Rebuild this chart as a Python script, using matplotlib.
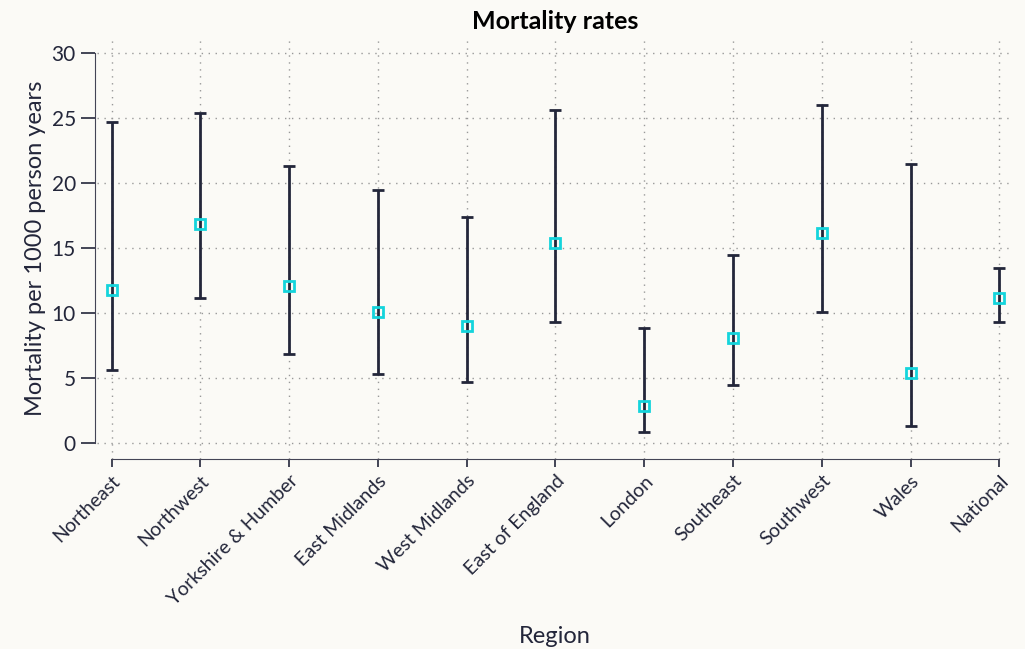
import matplotlib
matplotlib.use("Agg")
import matplotlib.pyplot as plt
import numpy as np

regions = ["Northeast", "Northwest", "Yorkshire & Humber", "East Midlands", "West Midlands",
           "East of England", "London", "Southeast", "Southwest", "Wales", "National"]
rate = [11.8, 16.9, 12.1, 10.1, 9.0, 15.4, 2.9, 8.1, 16.2, 5.4, 11.2]
lower = [5.6, 11.2, 6.9, 5.3, 4.7, 9.3, 0.9, 4.5, 10.1, 1.3, 9.3]
upper = [24.7, 25.4, 21.3, 19.5, 17.4, 25.6, 8.9, 14.5, 26.0, 21.5, 13.5]

plt.rcParams['font.family'] = ['Lato', 'DejaVu Sans']
bg = "#fbfaf6"
ink = "#23263a"

fig = plt.figure(figsize=(10.25, 6.49), dpi=100, facecolor=bg)
ax = fig.add_axes([0.095, 0.293, 0.893, 0.649])
ax.set_facecolor(bg)

x = np.arange(len(regions))
rate = np.array(rate)
err = [rate - np.array(lower), np.array(upper) - rate]
ax.errorbar(x, rate, yerr=err, fmt='none', ecolor=ink, elinewidth=2, capsize=4, capthick=2, zorder=3)
ax.plot(x, rate, 's', markersize=7, markerfacecolor='none', markeredgecolor='#14d4dc', markeredgewidth=2, zorder=4)

ax.set_xlim(-0.16, 10.15)
ax.set_ylim(-1.2, 31.2)
ax.set_yticks([0, 5, 10, 15, 20, 25, 30])
ax.set_xticks(x)
ax.set_xticklabels(regions, rotation=45, ha='right', rotation_mode='anchor', fontsize=14, color=ink)
ax.tick_params(axis='y', labelsize=15, colors=ink, length=10, width=1.2)
ax.tick_params(axis='x', length=6, width=1.2, colors=ink)

ax.grid(True, linestyle=(0, (1, 4)), color='#999999', linewidth=1)
ax.set_axisbelow(True)

for s in ['top', 'right']:
    ax.spines[s].set_visible(False)
ax.spines['left'].set_position(('outward', 2))
ax.spines['left'].set_bounds(0, 30)
ax.spines['bottom'].set_bounds(0, 10)
ax.spines['left'].set_color('#444455')
ax.spines['bottom'].set_color('#444455')

ax.set_title("Mortality rates", fontsize=18, fontweight='bold', color='black', pad=6)
ax.set_ylabel("Mortality per 1000 person years", fontsize=17, color=ink)
ax.set_xlabel("Region", fontsize=17, color=ink, labelpad=13)

fig.savefig("out.png", dpi=100, facecolor=bg)
